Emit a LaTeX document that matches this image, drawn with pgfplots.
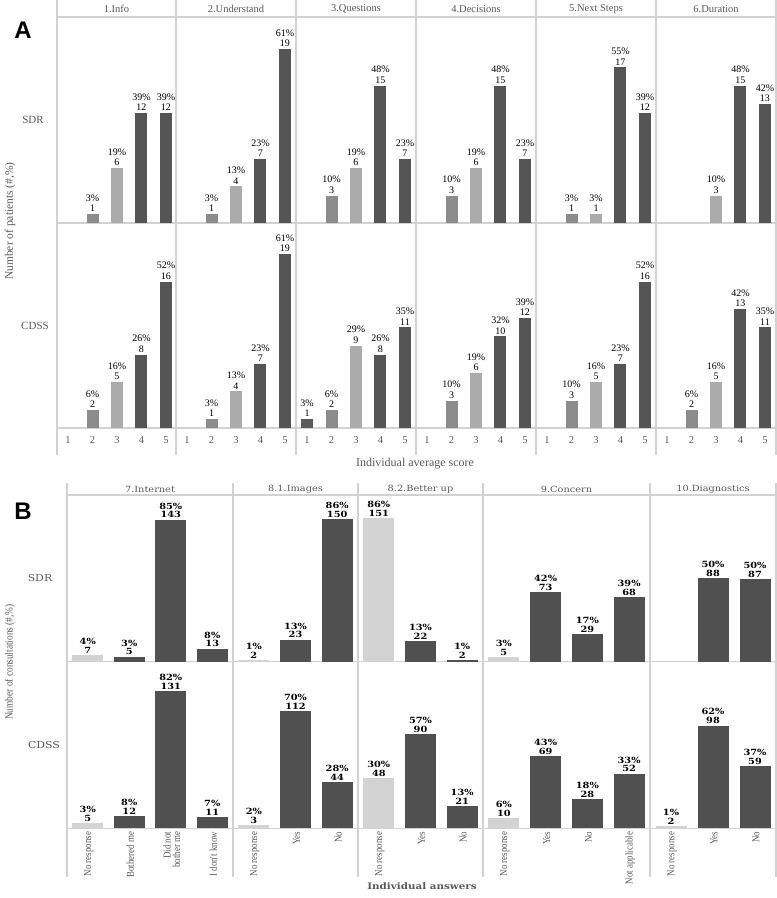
\documentclass[border=0pt]{standalone}
\usepackage{fontspec}
\setmainfont{Liberation Serif}
\newfontfamily\widef[FakeStretch=1.15]{DejaVu Serif}
\newfontfamily\narrowf[FakeStretch=0.85]{Liberation Serif}
\newfontfamily\sansf{Liberation Sans}
\usepackage{pgfplots}
\pgfplotsset{compat=1.18}

\definecolor{gridc}{HTML}{D2D2D2}
\definecolor{txt}{HTML}{595959}
\definecolor{sA}{HTML}{5A5A5A}
\definecolor{sB}{HTML}{8C8C8C}
\definecolor{sC}{HTML}{ABABAB}
\definecolor{sD}{HTML}{555555}
\definecolor{nr}{HTML}{D3D3D3}
\definecolor{dk}{HTML}{505050}

\pgfplotsset{
  common/.style={scale only axis, ybar, enlargelimits=false, ymin=0,
    axis line style={draw=none}, ytick=\empty, major tick length=0pt,
    clip=false, anchor=south west, xticklabels={}},
  cellA/.style={common, width=120pt, height=205pt, xmin=0.55, xmax=5.45,
    ymax=22.4, xtick={1,2,3,4,5}},
  botA/.style={xticklabels={1,2,3,4,5},
    xticklabel style={font=\fontsize{10.5}{10}\selectfont, text=txt, yshift=-5pt}},
  cellB/.style={common, height=166.7pt, xmin=0.5, ymax=100},
  botB/.style={xticklabel style={font=\narrowf\fontsize{10.5}{9.5}\selectfont,
    text=txt, rotate=90, anchor=east, align=right, yshift=-1pt}},
}

% panel A bar: x, count, percent, colour
\newcommand\ba[4]{\addplot[fill=#4, draw=none, bar width=12pt, bar shift=0pt,
  nodes near coords={#3\%\\#2},
  every node near coord/.append style={align=center, inner sep=2pt,
    font=\fontsize{10}{10.5}\selectfont}] coordinates {(#1,#2)};}
% panel B bar: x, height (%), percent label, count, colour
\newcommand\bb[5]{\addplot[fill=#5, draw=none, bar width=31pt, bar shift=0pt,
  nodes near coords={#3\%\\#4},
  every node near coord/.append style={align=center, inner sep=1.5pt,
    font=\widef\bfseries\fontsize{8.5}{8.8}\selectfont}] coordinates {(#1,#2)};}

\begin{document}
\begin{tikzpicture}
\useasboundingbox (0,0) rectangle (777pt,-898pt);

% ---------- panel A frame ----------
\foreach \x in {57,176,296,416,536,656,776}
  \draw[gridc, line width=1.2pt] (\x pt,0) -- (\x pt,-455pt);
\foreach \y in {17,223,428}
  \draw[gridc, line width=1.2pt] (57pt,-\y pt) -- (776pt,-\y pt);
\node[font=\sansf\bfseries\fontsize{24}{24}\selectfont] at (23pt,-30pt) {A};
\foreach \x/\t in {116.5/1.Info,236/2.Understand,356/3.Questions,476/4.Decisions,596/5.Next Steps,716/6.Duration}
  \node[text=txt, font=\fontsize{10.5}{10}\selectfont] at (\x pt,-9pt) {\t};
\node[text=txt, font=\fontsize{11}{10}\selectfont] at (33pt,-120pt) {SDR};
\node[text=txt, font=\fontsize{11}{10}\selectfont] at (35pt,-326pt) {CDSS};
\node[text=txt, rotate=90, font=\fontsize{11.5}{11}\selectfont] at (10pt,-221pt) {Number of patients (\#,\%)};
\node[text=txt, font=\fontsize{12}{11}\selectfont] at (415pt,-464pt) {Individual average score};

% SDR row
\begin{axis}[cellA, at={(57pt,-223pt)}]
\ba{2}{1}{3}{sB}\ba{3}{6}{19}{sC}\ba{4}{12}{39}{sD}\ba{5}{12}{39}{sD}
\end{axis}
\begin{axis}[cellA, at={(176pt,-223pt)}]
\ba{2}{1}{3}{sB}\ba{3}{4}{13}{sC}\ba{4}{7}{23}{sD}\ba{5}{19}{61}{sD}
\end{axis}
\begin{axis}[cellA, at={(296pt,-223pt)}]
\ba{2}{3}{10}{sB}\ba{3}{6}{19}{sC}\ba{4}{15}{48}{sD}\ba{5}{7}{23}{sD}
\end{axis}
\begin{axis}[cellA, at={(416pt,-223pt)}]
\ba{2}{3}{10}{sB}\ba{3}{6}{19}{sC}\ba{4}{15}{48}{sD}\ba{5}{7}{23}{sD}
\end{axis}
\begin{axis}[cellA, at={(536pt,-223pt)}]
\ba{2}{1}{3}{sB}\ba{3}{1}{3}{sC}\ba{4}{17}{55}{sD}\ba{5}{12}{39}{sD}
\end{axis}
\begin{axis}[cellA, at={(656pt,-223pt)}]
\ba{3}{3}{10}{sC}\ba{4}{15}{48}{sD}\ba{5}{13}{42}{sD}
\end{axis}

% CDSS row
\begin{axis}[cellA, botA, at={(57pt,-428pt)}]
\ba{2}{2}{6}{sB}\ba{3}{5}{16}{sC}\ba{4}{8}{26}{sD}\ba{5}{16}{52}{sD}
\end{axis}
\begin{axis}[cellA, botA, at={(176pt,-428pt)}]
\ba{2}{1}{3}{sB}\ba{3}{4}{13}{sC}\ba{4}{7}{23}{sD}\ba{5}{19}{61}{sD}
\end{axis}
\begin{axis}[cellA, botA, at={(296pt,-428pt)}]
\ba{1}{1}{3}{sA}\ba{2}{2}{6}{sB}\ba{3}{9}{29}{sC}\ba{4}{8}{26}{sD}\ba{5}{11}{35}{sD}
\end{axis}
\begin{axis}[cellA, botA, at={(416pt,-428pt)}]
\ba{2}{3}{10}{sB}\ba{3}{6}{19}{sC}\ba{4}{10}{32}{sD}\ba{5}{12}{39}{sD}
\end{axis}
\begin{axis}[cellA, botA, at={(536pt,-428pt)}]
\ba{2}{3}{10}{sB}\ba{3}{5}{16}{sC}\ba{4}{7}{23}{sD}\ba{5}{16}{52}{sD}
\end{axis}
\begin{axis}[cellA, botA, at={(656pt,-428pt)}]
\ba{2}{2}{6}{sB}\ba{3}{5}{16}{sC}\ba{4}{13}{42}{sD}\ba{5}{11}{35}{sD}
\end{axis}

% ---------- panel B frame ----------
\foreach \x in {67,233,358,483,650,776}
  \draw[gridc, line width=1.2pt] (\x pt,-483pt) -- (\x pt,-877pt);
\foreach \y in {495,661.7,828.3}
  \draw[gridc, line width=1.2pt] (67pt,-\y pt) -- (776pt,-\y pt);
\node[font=\sansf\bfseries\fontsize{24}{24}\selectfont] at (23pt,-511pt) {B};
\foreach \x/\t in {150/7.Internet,295.5/8.1.Images,420.5/8.2.Better up,566.5/9.Concern,713/10.Diagnostics}
  \node[text=txt, font=\widef\fontsize{8.5}{8}\selectfont] at (\x pt,-489pt) {\t};
\node[text=txt, font=\widef\fontsize{9.5}{8}\selectfont] at (40pt,-578pt) {SDR};
\node[text=txt, font=\widef\fontsize{9.5}{8}\selectfont] at (44pt,-745pt) {CDSS};
\node[text=txt, rotate=90, font=\narrowf\fontsize{11}{10}\selectfont] at (10pt,-662pt) {Number of consultations (\#,\%)};
\node[text=txt, font=\widef\bfseries\fontsize{9}{8}\selectfont] at (422pt,-886pt) {Individual answers};

% SDR row
\begin{axis}[cellB, width=166pt, xmax=4.5, xtick={1,2,3,4}, at={(67pt,-661.7pt)}]
\bb{1}{4.17}{4}{7}{nr}\bb{2}{2.98}{3}{5}{dk}\bb{3}{85.12}{85}{143}{dk}\bb{4}{7.74}{8}{13}{dk}
\end{axis}
\begin{axis}[cellB, width=125pt, xmax=3.5, xtick={1,2,3}, at={(233pt,-661.7pt)}]
\bb{1}{1.14}{1}{2}{nr}\bb{2}{13.14}{13}{23}{dk}\bb{3}{85.71}{86}{150}{dk}
\end{axis}
\begin{axis}[cellB, width=125pt, xmax=3.5, xtick={1,2,3}, at={(358pt,-661.7pt)}]
\bb{1}{86.29}{86}{151}{nr}\bb{2}{12.57}{13}{22}{dk}\bb{3}{1.14}{1}{2}{dk}
\end{axis}
\begin{axis}[cellB, width=167pt, xmax=4.5, xtick={1,2,3,4}, at={(483pt,-661.7pt)}]
\bb{1}{2.86}{3}{5}{nr}\bb{2}{41.71}{42}{73}{dk}\bb{3}{16.57}{17}{29}{dk}\bb{4}{38.86}{39}{68}{dk}
\end{axis}
\begin{axis}[cellB, width=126pt, xmax=3.5, xtick={1,2,3}, at={(650pt,-661.7pt)}]
\bb{2}{50.29}{50}{88}{dk}\bb{3}{49.71}{50}{87}{dk}
\end{axis}

% CDSS row
\begin{axis}[cellB, botB, width=166pt, xmax=4.5, xtick={1,2,3,4}, at={(67pt,-828.3pt)},
  xticklabels={No response,Bothered me,{Did not\\bother me},I don't know}]
\bb{1}{3.14}{3}{5}{nr}\bb{2}{7.55}{8}{12}{dk}\bb{3}{82.39}{82}{131}{dk}\bb{4}{6.92}{7}{11}{dk}
\end{axis}
\begin{axis}[cellB, botB, width=125pt, xmax=3.5, xtick={1,2,3}, at={(233pt,-828.3pt)},
  xticklabels={No response,Yes,No}]
\bb{1}{1.89}{2}{3}{nr}\bb{2}{70.44}{70}{112}{dk}\bb{3}{27.67}{28}{44}{dk}
\end{axis}
\begin{axis}[cellB, botB, width=125pt, xmax=3.5, xtick={1,2,3}, at={(358pt,-828.3pt)},
  xticklabels={No response,Yes,No}]
\bb{1}{30.19}{30}{48}{nr}\bb{2}{56.60}{57}{90}{dk}\bb{3}{13.21}{13}{21}{dk}
\end{axis}
\begin{axis}[cellB, botB, width=167pt, xmax=4.5, xtick={1,2,3,4}, at={(483pt,-828.3pt)},
  xticklabels={No response,Yes,No,Not applicable}]
\bb{1}{6.29}{6}{10}{nr}\bb{2}{43.40}{43}{69}{dk}\bb{3}{17.61}{18}{28}{dk}\bb{4}{32.70}{33}{52}{dk}
\end{axis}
\begin{axis}[cellB, botB, width=126pt, xmax=3.5, xtick={1,2,3}, at={(650pt,-828.3pt)},
  xticklabels={No response,Yes,No}]
\bb{1}{1.26}{1}{2}{nr}\bb{2}{61.64}{62}{98}{dk}\bb{3}{37.11}{37}{59}{dk}
\end{axis}
\end{tikzpicture}
\end{document}
